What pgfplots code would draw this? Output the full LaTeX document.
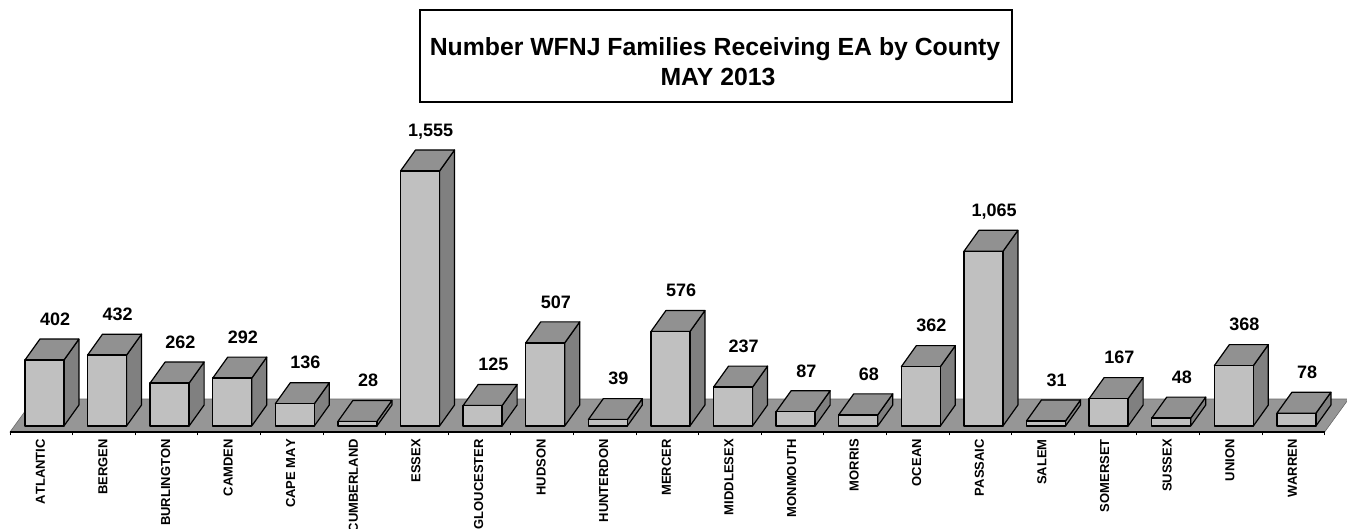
\documentclass[border=0pt]{standalone}
\usepackage{fontspec}
\setmainfont{Liberation Sans}
\usepackage{pgfplots}
\usepackage{pgfplotstable}
\pgfplotsset{compat=1.18}

\definecolor{frontc}{HTML}{C0C0C0}
\definecolor{topc}{HTML}{919191}
\definecolor{sidec}{HTML}{808080}
\definecolor{floorc}{HTML}{969696}

\pgfplotstableread{
idx v
0 402
1 432
2 262
3 292
4 136
5 28
6 1555
7 125
8 507
9 39
10 576
11 237
12 87
13 68
14 362
15 1065
16 31
17 167
18 48
19 368
20 78
}\counties

% bar geometry in axis units (1 unit x = 62.6pt, 1 unit y = 0.164pt)
\def\hw{0.3115}
\def\off{0.05}
\def\ddx{0.2396}
\def\ddy{128}

\begin{document}
\begin{tikzpicture}
\useasboundingbox (-10pt,-97pt) rectangle (1337pt,432pt);
\clip (-10pt,-97pt) rectangle (1337pt,432pt);
\begin{axis}[
    x=62.6pt, y=0.164pt,
    xmin=-0.5, xmax=20.5,
    ymin=-36.6, ymax=2500,
    clip=false,
    axis y line=none,
    axis x line*=bottom,
    x axis line style={draw=none},
    xtick={0,...,20},
    xticklabels={ATLANTIC,BERGEN,BURLINGTON,CAMDEN,CAPE MAY,CUMBERLAND,ESSEX,GLOUCESTER,HUDSON,HUNTERDON,MERCER,MIDDLESEX,MONMOUTH,MORRIS,OCEAN,PASSAIC,SALEM,SOMERSET,SUSSEX,UNION,WARREN},
    minor xtick={-0.5,0.5,...,20.5},
    major tick length=0pt,
    minor tick length=3.5pt,
    tick align=outside,
    every tick/.style={black, line width=0.8pt},
    xticklabel shift=7pt,
    xticklabel style={rotate=90, anchor=east, yshift=1pt,
        font=\fontsize{13}{13}\selectfont\bfseries\addfontfeatures{Kerning=Off},
        inner sep=0pt, text depth=0pt},
    /pgf/number format/1000 sep={,},
    /pgf/number format/assume math mode=true,
]
% floor
\addplot[fill=floorc, draw=floorc!70!black, line width=0.6pt] coordinates
    {(-0.5,-36.6)(20.5,-36.6)(20.883,164.6)(-0.117,164.6)} --cycle;
\addplot[black, line width=1.6pt] coordinates {(-0.5,-36.6)(20.5,-36.6)};

\pgfplotsforeachungrouped \i in {0,...,20}{
    \pgfplotstablegetelem{\i}{v}\of\counties
    \let\val\pgfplotsretval
    \pgfmathsetmacro\xl{\i+\off-\hw}
    \pgfmathsetmacro\xr{\i+\off+\hw}
    \pgfmathsetmacro\xlb{\xl+\ddx}
    \pgfmathsetmacro\xrb{\xr+\ddx}
    \pgfmathsetmacro\yb{\val+\ddy}
    \edef\temp{
        \noexpand\addplot[fill=sidec, draw=black, line width=1.2pt, line join=round] coordinates
            {(\xr,0)(\xrb,\ddy)(\xrb,\yb)(\xr,\val)} --cycle;
        \noexpand\addplot[fill=topc, draw=black, line width=1.2pt, line join=round] coordinates
            {(\xl,\val)(\xr,\val)(\xrb,\yb)(\xlb,\yb)} --cycle;
        \noexpand\addplot[fill=frontc, draw=black, line width=1.4pt, line join=round] coordinates
            {(\xl,0)(\xr,0)(\xr,\val)(\xl,\val)} --cycle;
    }
    \temp
}

% value labels sit above the back of each bar
\addplot[draw=none, mark=none, point meta=explicit,
    nodes near coords,
    every node near coord/.append style={anchor=south, inner sep=0pt, text depth=0pt,
        yshift=13.5pt, black, font=\fontsize{18}{18}\selectfont\bfseries}]
    table[x expr=\thisrow{idx}+0.22, y expr=\thisrow{v}+128, meta=v] {\counties};
\end{axis}

\draw[black, line width=1.2pt] (410pt,330pt) rectangle (1002pt,422pt);
\node[align=center, inner sep=0pt, font=\fontsize{24.8}{30}\selectfont\bfseries] at (705pt,370pt)
    {Number WFNJ Families Receiving EA by County\\\hspace*{6pt}MAY 2013};
\end{tikzpicture}
\end{document}
